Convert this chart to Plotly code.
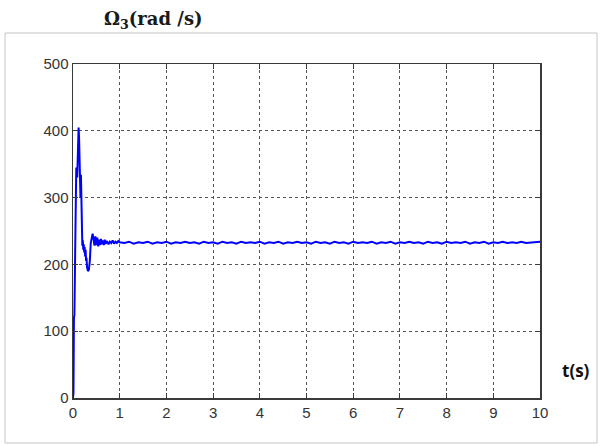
import plotly.graph_objects as go

# Time samples (s) and rotor speed Omega_3 (rad/s)
t_transient = [0.0, 0.01, 0.02, 0.03, 0.05, 0.07, 0.09, 0.10, 0.11, 0.12, 0.13, 0.14,
               0.15, 0.16, 0.17, 0.18, 0.19, 0.20, 0.21, 0.22, 0.23, 0.24, 0.25, 0.26,
               0.27, 0.28, 0.29, 0.30, 0.32, 0.34, 0.36, 0.38, 0.40, 0.42, 0.44, 0.46,
               0.48, 0.50, 0.52, 0.54, 0.56, 0.58, 0.60, 0.62, 0.64, 0.66, 0.68, 0.70,
               0.73, 0.76, 0.79, 0.82, 0.85, 0.88, 0.91, 0.94, 0.97, 1.00]
w_transient = [0, 8, 120, 124, 240, 345, 330, 380, 400, 405, 390, 360,
               330, 300, 334, 280, 245, 228, 236, 222, 230, 218, 226, 212,
               222, 205, 210, 196, 190, 192, 205, 232, 243, 246, 238, 228,
               242, 229, 240, 227, 237, 229, 238, 230, 236, 229, 237, 231,
               235, 230, 234, 232, 236, 231, 234, 232, 235, 233]

t_steady = [1.1, 1.2, 1.3, 1.4, 1.5, 1.6, 1.7, 1.8, 1.9, 2.0, 2.1, 2.2, 2.3, 2.4, 2.5,
            2.6, 2.7, 2.8, 2.9, 3.0, 3.1, 3.2, 3.3, 3.4, 3.5, 3.6, 3.7, 3.8, 3.9, 4.0,
            4.1, 4.2, 4.3, 4.4, 4.5, 4.6, 4.7, 4.8, 4.9, 5.0, 5.1, 5.2, 5.3, 5.4, 5.5,
            5.6, 5.7, 5.8, 5.9, 6.0, 6.1, 6.2, 6.3, 6.4, 6.5, 6.6, 6.7, 6.8, 6.9, 7.0,
            7.1, 7.2, 7.3, 7.4, 7.5, 7.6, 7.7, 7.8, 7.9, 8.0, 8.1, 8.2, 8.3, 8.4, 8.5,
            8.6, 8.7, 8.8, 8.9, 9.0, 9.1, 9.2, 9.3, 9.4, 9.5, 9.6, 9.7, 9.8, 9.9, 10.0]
w_steady = [232, 234, 231, 233, 232, 234, 231, 233, 232, 234, 231, 233, 232, 234, 232,
            233, 231, 234, 232, 233, 231, 234, 232, 233, 231, 234, 232, 233, 232, 234,
            231, 233, 232, 234, 231, 233, 232, 234, 232, 233, 231, 234, 232, 233, 231,
            234, 232, 233, 231, 234, 232, 233, 232, 234, 231, 233, 232, 234, 231, 233,
            232, 234, 232, 233, 231, 234, 232, 233, 231, 234, 232, 233, 232, 234, 231,
            233, 232, 234, 231, 233, 232, 234, 232, 233, 232, 234, 232, 233, 233, 234]

t = t_transient + t_steady
omega3 = w_transient + w_steady

x_ticks = [0, 1, 2, 3, 4, 5, 6, 7, 8, 9, 10]
y_ticks = [0, 100, 200, 300, 400, 500]

W, H = 605, 446
L, R, T, B = 73, 540, 64, 398


def px(x):
    return (x - L) / (R - L)


def py(y):
    return (B - y) / (B - T)


fig = go.Figure()
fig.add_trace(go.Scatter(x=t, y=omega3, mode="lines",
                         line=dict(color="#0000ff", width=2), showlegend=False))

axis_common = dict(
    showline=True, linecolor="#3a3a3a", linewidth=1.5, mirror="ticks",
    ticks="inside", ticklen=5, tickcolor="#3a3a3a",
    showgrid=True, gridcolor="#555555", griddash="dot", gridwidth=1,
    zeroline=False,
    tickfont=dict(family="Liberation Sans Narrow, Arial Narrow, Liberation Sans, Arial",
                  size=15, color="#333333"),
)

fig.update_xaxes(range=[0, 10], tickvals=x_ticks, ticktext=[str(v) for v in x_ticks],
                 **axis_common)
fig.update_yaxes(range=[0, 500], tickvals=y_ticks, ticktext=[str(v) for v in y_ticks],
                 **axis_common)

# outer light-gray frame
fig.add_shape(type="rect", xref="paper", yref="paper",
              x0=px(5), x1=px(597), y0=py(443), y1=py(33),
              line=dict(color="#c4c4c4", width=1), layer="below")

fig.add_annotation(text="<b>Ω<sub>3</sub>(rad /s)</b>", xref="paper", yref="paper",
                   x=px(153), y=py(20), showarrow=False,
                   font=dict(family="DejaVu Serif, Liberation Serif, serif", size=18,
                             color="#1a1a1a"),
                   xanchor="center", yanchor="middle")
fig.add_annotation(text="<b>t(s)</b>", xref="paper", yref="paper",
                   x=px(576), y=py(370), showarrow=False,
                   font=dict(family="Open Sans, Liberation Sans, sans-serif", size=17,
                             color="#111111"),
                   xanchor="center", yanchor="middle")

fig.update_layout(
    width=W, height=H,
    margin=dict(l=L, r=W - R, t=T, b=H - B),
    paper_bgcolor="white", plot_bgcolor="white",
)

fig.write_html("out.html",
               config={"displayModeBar": False, "staticPlot": True},
               post_script="document.body.style.margin='0';"
                           "document.body.style.overflow='hidden';")
